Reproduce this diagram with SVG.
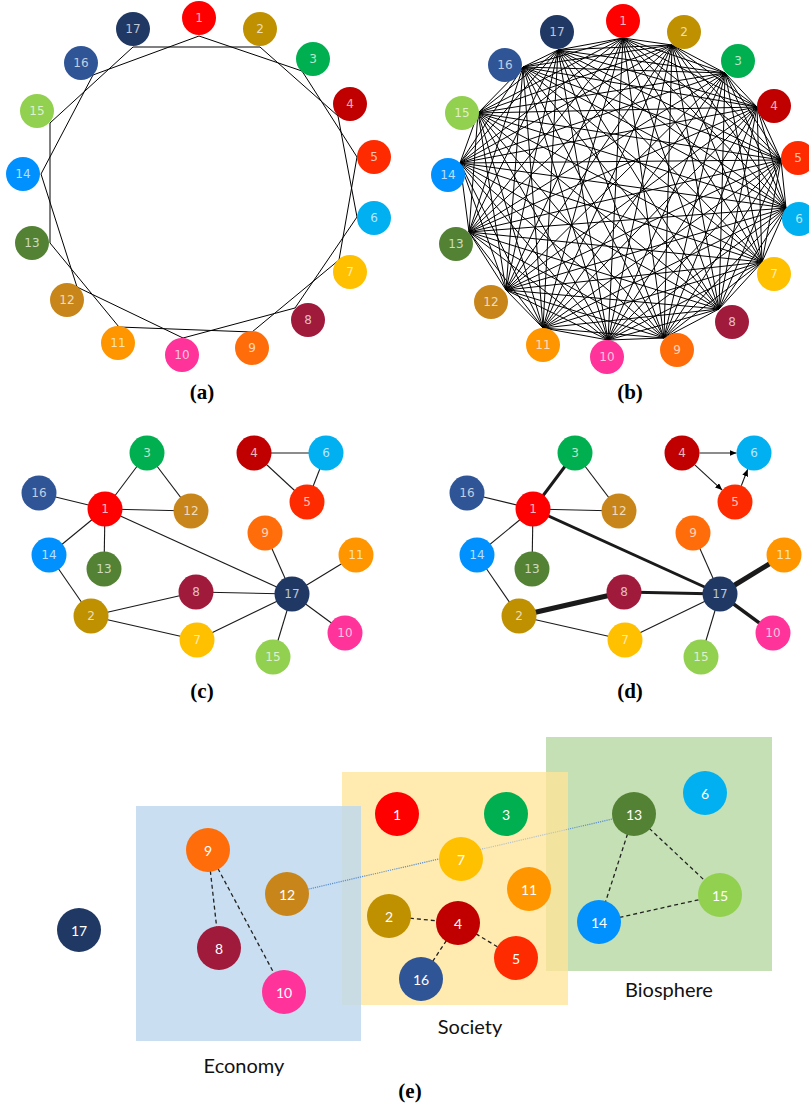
<svg xmlns="http://www.w3.org/2000/svg" width="809" height="1110" viewBox="0 0 809 1110">
<style>
.bg{fill:#fff}
.ed{stroke:#000;stroke-width:1;fill:none}
.ec{stroke:#1a1a1a;stroke-width:1.1;fill:none}
.w3{stroke-width:3}
.w35{stroke-width:3.5}
.w5{stroke-width:5}
.ds{stroke:#222;stroke-width:1.3;stroke-dasharray:4 3;fill:none}
.nt{font-family:"DejaVu Sans",sans-serif;font-size:12px;fill:#fff;fill-opacity:.72;text-anchor:middle;dominant-baseline:central}
.et{font-family:Lato,"Open Sans",sans-serif;font-size:14px;fill:#fff;text-anchor:middle;dominant-baseline:central}
.pl{font-family:"Liberation Serif",serif;font-weight:bold;font-size:21px;fill:#000;text-anchor:middle}
.gl{font-family:Lato,"Open Sans",sans-serif;font-size:20px;fill:#111;text-anchor:middle}
.c1{fill:#ff0000}.c2{fill:#bf9000}.c3{fill:#00b050}.c4{fill:#c00000}.c5{fill:#ff2b00}.c6{fill:#00b0f0}
.c7{fill:#ffc000}.c8{fill:#a01a3c}.c9{fill:#ff6d0a}.c10{fill:#ff3399}.c11{fill:#ff9600}.c12{fill:#c8861a}
.c13{fill:#548235}.c14{fill:#0091ff}.c15{fill:#92d050}.c16{fill:#2f5597}.c17{fill:#203864}
</style>
<defs>
<marker id="arr" markerUnits="userSpaceOnUse" markerWidth="8" markerHeight="6" refX="7" refY="3" orient="auto">
<path d="M0,0 L7,3 L0,6 z" fill="#000"/>
</marker>
<linearGradient id="dotg" gradientUnits="userSpaceOnUse" x1="310" y1="0" x2="612" y2="0">
<stop offset="0" stop-color="#5b8fd0"/><stop offset="0.56" stop-color="#5b8fd0"/>
<stop offset="0.58" stop-color="#b9c3cc"/><stop offset="0.84" stop-color="#b9c3cc"/>
<stop offset="0.86" stop-color="#5b8fd0"/><stop offset="1" stop-color="#5b8fd0"/>
</linearGradient>
</defs>
<rect class="bg" x="0" y="0" width="809" height="1110"/>

<!-- Panel (a) -->
<g id="panel-a">
<g id="a-edges">
<polygon class="ed" points="199,36 302,71 357,157 339,260 252,332 119,327 50,243 50,123 133,47 260,47 338,116 357,217 295,308 183,338 77,287 41,174 93,75"/>
</g>
<g id="a-n1"><circle class="c1" cx="199" cy="18" r="17"/><text class="nt" x="199" y="18">1</text></g>
<g id="a-n2"><circle class="c2" cx="260" cy="29" r="17"/><text class="nt" x="260" y="29">2</text></g>
<g id="a-n3"><circle class="c3" cx="313" cy="59" r="17"/><text class="nt" x="313" y="59">3</text></g>
<g id="a-n4"><circle class="c4" cx="350" cy="104" r="17"/><text class="nt" x="350" y="104">4</text></g>
<g id="a-n5"><circle class="c5" cx="374" cy="157" r="17"/><text class="nt" x="374" y="157">5</text></g>
<g id="a-n6"><circle class="c6" cx="374" cy="218" r="17"/><text class="nt" x="374" y="218">6</text></g>
<g id="a-n7"><circle class="c7" cx="350" cy="272" r="17"/><text class="nt" x="350" y="272">7</text></g>
<g id="a-n8"><circle class="c8" cx="308" cy="320" r="17"/><text class="nt" x="308" y="320">8</text></g>
<g id="a-n9"><circle class="c9" cx="252" cy="348" r="17"/><text class="nt" x="252" y="348">9</text></g>
<g id="a-n10"><circle class="c10" cx="182" cy="355" r="17"/><text class="nt" x="182" y="355">10</text></g>
<g id="a-n11"><circle class="c11" cx="118" cy="343" r="17"/><text class="nt" x="118" y="343">11</text></g>
<g id="a-n12"><circle class="c12" cx="67" cy="300" r="17"/><text class="nt" x="67" y="300">12</text></g>
<g id="a-n13"><circle class="c13" cx="32" cy="243" r="17"/><text class="nt" x="32" y="243">13</text></g>
<g id="a-n14"><circle class="c14" cx="23" cy="174" r="17"/><text class="nt" x="23" y="174">14</text></g>
<g id="a-n15"><circle class="c15" cx="37" cy="111" r="17"/><text class="nt" x="37" y="111">15</text></g>
<g id="a-n16"><circle class="c16" cx="81" cy="63" r="17"/><text class="nt" x="81" y="63">16</text></g>
<g id="a-n17"><circle class="c17" cx="133" cy="29" r="17"/><text class="nt" x="133" y="29">17</text></g>
<text class="pl" x="202" y="399">(a)</text>
</g>

<!-- Panel (b) -->
<g id="panel-b">
<g id="b-edges">
<polygon class="ed" points="623,38 672,45 725,73 757,107 781,160 786,208 762,262 719,309 664,338 608,340 543,328 506,290 469,232 460,163 478,113 523,67 558,50"/>
<polygon class="ed" points="623,38 725,73 781,160 762,262 664,338 543,328 469,232 478,113 558,50 672,45 757,107 786,208 719,309 608,340 506,290 460,163 523,67"/>
<polygon class="ed" points="623,38 757,107 762,262 608,340 469,232 523,67 672,45 781,160 719,309 543,328 460,163 558,50 725,73 786,208 664,338 506,290 478,113"/>
<polygon class="ed" points="623,38 781,160 664,338 469,232 558,50 757,107 719,309 506,290 523,67 725,73 762,262 543,328 478,113 672,45 786,208 608,340 460,163"/>
<polygon class="ed" points="623,38 786,208 543,328 523,67 757,107 664,338 460,163 672,45 762,262 506,290 558,50 781,160 608,340 478,113 725,73 719,309 469,232"/>
<polygon class="ed" points="623,38 762,262 469,232 672,45 719,309 460,163 725,73 664,338 478,113 757,107 608,340 523,67 781,160 543,328 558,50 786,208 506,290"/>
<polygon class="ed" points="623,38 719,309 478,113 781,160 506,290 672,45 664,338 523,67 786,208 469,232 725,73 608,340 558,50 762,262 460,163 757,107 543,328"/>
<polygon class="ed" points="623,38 664,338 558,50 719,309 523,67 762,262 478,113 786,208 460,163 781,160 469,232 757,107 506,290 725,73 543,328 672,45 608,340"/>
</g>
<g id="b-n1"><circle class="c1" cx="623" cy="21" r="17"/><text class="nt" x="623" y="21">1</text></g>
<g id="b-n2"><circle class="c2" cx="684" cy="32" r="17"/><text class="nt" x="684" y="32">2</text></g>
<g id="b-n3"><circle class="c3" cx="738" cy="61" r="17"/><text class="nt" x="738" y="61">3</text></g>
<g id="b-n4"><circle class="c4" cx="774" cy="106" r="17"/><text class="nt" x="774" y="106">4</text></g>
<g id="b-n5"><circle class="c5" cx="798" cy="158" r="17"/><text class="nt" x="798" y="158">5</text></g>
<g id="b-n6"><circle class="c6" cx="799" cy="219" r="17"/><text class="nt" x="799" y="219">6</text></g>
<g id="b-n7"><circle class="c7" cx="774" cy="274" r="17"/><text class="nt" x="774" y="274">7</text></g>
<g id="b-n8"><circle class="c8" cx="732" cy="322" r="17"/><text class="nt" x="732" y="322">8</text></g>
<g id="b-n9"><circle class="c9" cx="677" cy="350" r="17"/><text class="nt" x="677" y="350">9</text></g>
<g id="b-n10"><circle class="c10" cx="607" cy="357" r="17"/><text class="nt" x="607" y="357">10</text></g>
<g id="b-n11"><circle class="c11" cx="543" cy="345" r="17"/><text class="nt" x="543" y="345">11</text></g>
<g id="b-n12"><circle class="c12" cx="491" cy="302" r="17"/><text class="nt" x="491" y="302">12</text></g>
<g id="b-n13"><circle class="c13" cx="456" cy="244" r="17"/><text class="nt" x="456" y="244">13</text></g>
<g id="b-n14"><circle class="c14" cx="448" cy="175" r="17"/><text class="nt" x="448" y="175">14</text></g>
<g id="b-n15"><circle class="c15" cx="462" cy="113" r="17"/><text class="nt" x="462" y="113">15</text></g>
<g id="b-n16"><circle class="c16" cx="505" cy="65" r="17"/><text class="nt" x="505" y="65">16</text></g>
<g id="b-n17"><circle class="c17" cx="557" cy="32" r="17"/><text class="nt" x="557" y="32">17</text></g>
<text class="pl" x="630" y="399">(b)</text>
</g>

<!-- Panel (c) -->
<g id="panel-c">
<g id="c-edges">
<line class="ec" x1="105" y1="509" x2="147" y2="453"/>
<line class="ec" x1="147" y1="453" x2="191" y2="511"/>
<line class="ec" x1="105" y1="509" x2="39" y2="493"/>
<line class="ec" x1="105" y1="509" x2="191" y2="511"/>
<line class="ec" x1="105" y1="509" x2="49" y2="555"/>
<line class="ec" x1="105" y1="509" x2="104" y2="569"/>
<line class="ec" x1="105" y1="509" x2="292" y2="594"/>
<line class="ec" x1="49" y1="555" x2="91" y2="616"/>
<line class="ec" x1="91" y1="616" x2="196" y2="592"/>
<line class="ec" x1="91" y1="616" x2="197" y2="640"/>
<line class="ec" x1="196" y1="592" x2="292" y2="594"/>
<line class="ec" x1="197" y1="640" x2="292" y2="594"/>
<line class="ec" x1="265" y1="533" x2="292" y2="594"/>
<line class="ec" x1="356" y1="555" x2="292" y2="594"/>
<line class="ec" x1="345" y1="633" x2="292" y2="594"/>
<line class="ec" x1="273" y1="657" x2="292" y2="594"/>
<line class="ec" x1="254" y1="453" x2="326" y2="453"/>
<line class="ec" x1="254" y1="453" x2="307" y2="502"/>
<line class="ec" x1="307" y1="502" x2="326" y2="453"/>
</g>
<g id="c-n1"><circle class="c1" cx="105" cy="509" r="17.5"/><text class="nt" x="105" y="509">1</text></g>
<g id="c-n2"><circle class="c2" cx="91" cy="616" r="17.5"/><text class="nt" x="91" y="616">2</text></g>
<g id="c-n3"><circle class="c3" cx="147" cy="453" r="17.5"/><text class="nt" x="147" y="453">3</text></g>
<g id="c-n4"><circle class="c4" cx="254" cy="453" r="17.5"/><text class="nt" x="254" y="453">4</text></g>
<g id="c-n5"><circle class="c5" cx="307" cy="502" r="17.5"/><text class="nt" x="307" y="502">5</text></g>
<g id="c-n6"><circle class="c6" cx="326" cy="453" r="17.5"/><text class="nt" x="326" y="453">6</text></g>
<g id="c-n7"><circle class="c7" cx="197" cy="640" r="17.5"/><text class="nt" x="197" y="640">7</text></g>
<g id="c-n8"><circle class="c8" cx="196" cy="592" r="17.5"/><text class="nt" x="196" y="592">8</text></g>
<g id="c-n9"><circle class="c9" cx="265" cy="533" r="17.5"/><text class="nt" x="265" y="533">9</text></g>
<g id="c-n10"><circle class="c10" cx="345" cy="633" r="17.5"/><text class="nt" x="345" y="633">10</text></g>
<g id="c-n11"><circle class="c11" cx="356" cy="555" r="17.5"/><text class="nt" x="356" y="555">11</text></g>
<g id="c-n12"><circle class="c12" cx="191" cy="511" r="17.5"/><text class="nt" x="191" y="511">12</text></g>
<g id="c-n13"><circle class="c13" cx="104" cy="569" r="17.5"/><text class="nt" x="104" y="569">13</text></g>
<g id="c-n14"><circle class="c14" cx="49" cy="555" r="17.5"/><text class="nt" x="49" y="555">14</text></g>
<g id="c-n15"><circle class="c15" cx="273" cy="657" r="17.5"/><text class="nt" x="273" y="657">15</text></g>
<g id="c-n16"><circle class="c16" cx="39" cy="493" r="17.5"/><text class="nt" x="39" y="493">16</text></g>
<g id="c-n17"><circle class="c17" cx="292" cy="594" r="17.5"/><text class="nt" x="292" y="594">17</text></g>
<text class="pl" x="202" y="698">(c)</text>
</g>

<!-- Panel (d) -->
<g id="panel-d">
<g id="d-edges">
<line class="ec w3" x1="533" y1="509" x2="575" y2="453"/>
<line class="ec" x1="575" y1="453" x2="619" y2="511"/>
<line class="ec" x1="533" y1="509" x2="467" y2="493"/>
<line class="ec" x1="533" y1="509" x2="619" y2="511"/>
<line class="ec" x1="533" y1="509" x2="477" y2="555"/>
<line class="ec" x1="533" y1="509" x2="532" y2="569"/>
<line class="ec w3" x1="533" y1="509" x2="720" y2="594"/>
<line class="ec" x1="477" y1="555" x2="519" y2="616"/>
<line class="ec w5" x1="519" y1="616" x2="624" y2="592"/>
<line class="ec" x1="519" y1="616" x2="625" y2="640"/>
<line class="ec w3" x1="624" y1="592" x2="720" y2="594"/>
<line class="ec" x1="625" y1="640" x2="720" y2="594"/>
<line class="ec" x1="693" y1="533" x2="720" y2="594"/>
<line class="ec w5" x1="784" y1="555" x2="720" y2="594"/>
<line class="ec w35" x1="773" y1="633" x2="720" y2="594"/>
<line class="ec" x1="701" y1="657" x2="720" y2="594"/>
<line class="ec" x1="699.5" y1="453" x2="736.5" y2="453" marker-end="url(#arr)"/>
<line class="ec" x1="694.8" y1="464.9" x2="722.2" y2="490.1" marker-end="url(#arr)"/>
<line class="ec" x1="741.3" y1="485.7" x2="747.7" y2="469.3" marker-end="url(#arr)"/>
</g>
<g id="d-n1"><circle class="c1" cx="533" cy="509" r="17.5"/><text class="nt" x="533" y="509">1</text></g>
<g id="d-n2"><circle class="c2" cx="519" cy="616" r="17.5"/><text class="nt" x="519" y="616">2</text></g>
<g id="d-n3"><circle class="c3" cx="575" cy="453" r="17.5"/><text class="nt" x="575" y="453">3</text></g>
<g id="d-n4"><circle class="c4" cx="682" cy="453" r="17.5"/><text class="nt" x="682" y="453">4</text></g>
<g id="d-n5"><circle class="c5" cx="735" cy="502" r="17.5"/><text class="nt" x="735" y="502">5</text></g>
<g id="d-n6"><circle class="c6" cx="754" cy="453" r="17.5"/><text class="nt" x="754" y="453">6</text></g>
<g id="d-n7"><circle class="c7" cx="625" cy="640" r="17.5"/><text class="nt" x="625" y="640">7</text></g>
<g id="d-n8"><circle class="c8" cx="624" cy="592" r="17.5"/><text class="nt" x="624" y="592">8</text></g>
<g id="d-n9"><circle class="c9" cx="693" cy="533" r="17.5"/><text class="nt" x="693" y="533">9</text></g>
<g id="d-n10"><circle class="c10" cx="773" cy="633" r="17.5"/><text class="nt" x="773" y="633">10</text></g>
<g id="d-n11"><circle class="c11" cx="784" cy="555" r="17.5"/><text class="nt" x="784" y="555">11</text></g>
<g id="d-n12"><circle class="c12" cx="619" cy="511" r="17.5"/><text class="nt" x="619" y="511">12</text></g>
<g id="d-n13"><circle class="c13" cx="532" cy="569" r="17.5"/><text class="nt" x="532" y="569">13</text></g>
<g id="d-n14"><circle class="c14" cx="477" cy="555" r="17.5"/><text class="nt" x="477" y="555">14</text></g>
<g id="d-n15"><circle class="c15" cx="701" cy="657" r="17.5"/><text class="nt" x="701" y="657">15</text></g>
<g id="d-n16"><circle class="c16" cx="467" cy="493" r="17.5"/><text class="nt" x="467" y="493">16</text></g>
<g id="d-n17"><circle class="c17" cx="720" cy="594" r="17.5"/><text class="nt" x="720" y="594">17</text></g>
<text class="pl" x="630" y="698">(d)</text>
</g>

<!-- Panel (e) -->
<g id="panel-e">
<g id="e-regions">
<rect id="biosphere" x="546" y="737" width="226" height="234" fill="#c5e0b4"/>
<rect id="society" x="342" y="772" width="226" height="233" fill="#ffe699" fill-opacity="0.78"/>
<rect id="economy" x="136" y="806" width="225" height="235" fill="#bdd7ee" fill-opacity="0.82"/>
<text class="gl" x="244" y="1073">Economy</text>
<text class="gl" x="470" y="1034">Society</text>
<text class="gl" x="669" y="997">Biosphere</text>
</g>
<g id="e-edges">
<line x1="287" y1="894" x2="634" y2="814" stroke="url(#dotg)" stroke-width="1.2" stroke-dasharray="1.2 1"/>
<line class="ds" x1="208" y1="850" x2="219" y2="948"/>
<line class="ds" x1="208" y1="850" x2="284" y2="992"/>
<line class="ds" x1="389" y1="916" x2="458" y2="923"/>
<line class="ds" x1="458" y1="923" x2="516" y2="958"/>
<line class="ds" x1="458" y1="923" x2="421" y2="979"/>
<line class="ds" x1="634" y1="814" x2="599" y2="922"/>
<line class="ds" x1="634" y1="814" x2="720" y2="895"/>
<line class="ds" x1="599" y1="922" x2="720" y2="895"/>
</g>
<g id="e-n1"><circle class="c1" cx="397" cy="814" r="22"/><text class="et" x="397" y="814">1</text></g>
<g id="e-n2"><circle class="c2" cx="389" cy="916" r="22"/><text class="et" x="389" y="916">2</text></g>
<g id="e-n3"><circle class="c3" cx="506" cy="814" r="22"/><text class="et" x="506" y="814">3</text></g>
<g id="e-n4"><circle class="c4" cx="458" cy="923" r="22"/><text class="et" x="458" y="923">4</text></g>
<g id="e-n5"><circle class="c5" cx="516" cy="958" r="22"/><text class="et" x="516" y="958">5</text></g>
<g id="e-n6"><circle class="c6" cx="705" cy="793" r="22"/><text class="et" x="705" y="793">6</text></g>
<g id="e-n7"><circle class="c7" cx="461" cy="859" r="22"/><text class="et" x="461" y="859">7</text></g>
<g id="e-n8"><circle class="c8" cx="219" cy="948" r="22"/><text class="et" x="219" y="948">8</text></g>
<g id="e-n9"><circle class="c9" cx="208" cy="850" r="22"/><text class="et" x="208" y="850">9</text></g>
<g id="e-n10"><circle class="c10" cx="284" cy="992" r="22"/><text class="et" x="284" y="992">10</text></g>
<g id="e-n11"><circle class="c11" cx="529" cy="889" r="22"/><text class="et" x="529" y="889">11</text></g>
<g id="e-n12"><circle class="c12" cx="287" cy="894" r="22"/><text class="et" x="287" y="894">12</text></g>
<g id="e-n13"><circle class="c13" cx="634" cy="814" r="22"/><text class="et" x="634" y="814">13</text></g>
<g id="e-n14"><circle class="c14" cx="599" cy="922" r="22"/><text class="et" x="599" y="922">14</text></g>
<g id="e-n15"><circle class="c15" cx="720" cy="895" r="22"/><text class="et" x="720" y="895">15</text></g>
<g id="e-n16"><circle class="c16" cx="421" cy="979" r="22"/><text class="et" x="421" y="979">16</text></g>
<g id="e-n17"><circle class="c17" cx="79" cy="930" r="22"/><text class="et" x="79" y="930">17</text></g>
<text class="pl" x="410" y="1098">(e)</text>
</g>
</svg>
